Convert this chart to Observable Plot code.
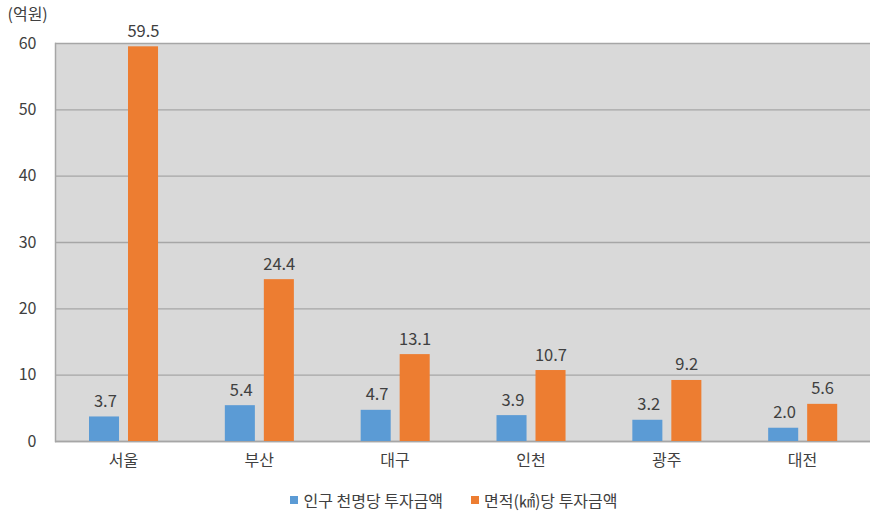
<!DOCTYPE html>
<html>
<head>
<meta charset="utf-8">
<script src="https://cdn.jsdelivr.net/npm/d3@7"></script>
<script src="https://cdn.jsdelivr.net/npm/@observablehq/plot@0.6"></script>
<style>
  body { margin: 0; background: #fff; font-family: "Noto Sans CJK KR", "Noto Sans", sans-serif; }
  #wrap { width: 870px; position: relative; }
  #legend { height: 40px; display: flex; justify-content: center; align-items: center; gap: 28px; font-size: 16px; color: #404040; padding-left: 38px; box-sizing: border-box; }
  .item { display: flex; align-items: center; gap: 5px; }
  .sw { width: 8px; height: 8px; display: inline-block; }
</style>
</head>
<body>
<div id="wrap"></div>
<script>
const categories = ["서울", "부산", "대구", "인천", "광주", "대전"];
const seriesNames = ["인구 천명당 투자금액", "면적(㎢)당 투자금액"];
const perPopulation = [3.7, 5.4, 4.7, 3.9, 3.2, 2.0];
const perArea = [59.5, 24.4, 13.1, 10.7, 9.2, 5.6];
const yTicks = [0, 10, 20, 30, 40, 50, 60];
const colors = ["#5b9bd5", "#ed7d31"];
const unitLabel = "(억원)";

const popRows = categories.map((c, i) => ({category: c, value: perPopulation[i]}));
const areaRows = categories.map((c, i) => ({category: c, value: perArea[i]}));
const fmt = d3.format(".1f");
const font = "'Noto Sans CJK KR', 'Noto Sans', sans-serif";

const chart = Plot.plot({
  width: 870,
  height: 480,
  marginLeft: 55,
  marginRight: 0,
  marginTop: 43,
  marginBottom: 39,
  style: {fontFamily: font, fontSize: "16px", color: "#404040", background: "#fff"},
  x: {domain: categories, padding: 0, round: false, label: null},
  y: {domain: [0, 60], label: null},
  marks: [
    Plot.frame({fill: "#d9d9d9", stroke: null}),
    Plot.gridY(yTicks, {stroke: "#a6a6a6", strokeOpacity: 1, strokeWidth: 1.3}),
    Plot.ruleY([0], {stroke: "#a6a6a6", strokeWidth: 1.5}),
    Plot.frame({anchor: "left", stroke: "#a6a6a6", strokeWidth: 1.5}),
    Plot.barY(popRows, {x: "category", y: "value", fill: colors[0], insetLeft: 34, insetRight: 71.8}),
    Plot.barY(areaRows, {x: "category", y: "value", fill: colors[1], insetLeft: 73, insetRight: 32.8}),
    Plot.text(popRows, {x: "category", y: "value", text: d => fmt(d.value), dx: -18, dy: -10, lineAnchor: "bottom", fontSize: 16.5, fill: "#404040"}),
    Plot.text(areaRows, {x: "category", y: "value", text: d => fmt(d.value), dx: 20, dy: -10, lineAnchor: "bottom", fontSize: 16.5, fill: "#404040"}),
    Plot.axisY(yTicks, {tickSize: 0, tickPadding: 19, fontSize: 16, fill: "#404040", label: null}),
    Plot.axisX({tickSize: 0, tickPadding: 13, fontSize: 16, fill: "#404040", label: null}),
    Plot.text([unitLabel], {frameAnchor: "top-left", dx: -48, dy: -35, textAnchor: "start", lineAnchor: "top", fontSize: 16, fill: "#404040"})
  ]
});

const wrap = document.getElementById("wrap");
wrap.appendChild(chart);
const legend = document.createElement("div");
legend.id = "legend";
seriesNames.forEach((n, i) => {
  const it = document.createElement("div");
  it.className = "item";
  const sw = document.createElement("span");
  sw.className = "sw";
  sw.style.background = colors[i];
  const t = document.createElement("span");
  t.textContent = n;
  it.appendChild(sw);
  it.appendChild(t);
  legend.appendChild(it);
});
wrap.appendChild(legend);
</script>
</body>
</html>
